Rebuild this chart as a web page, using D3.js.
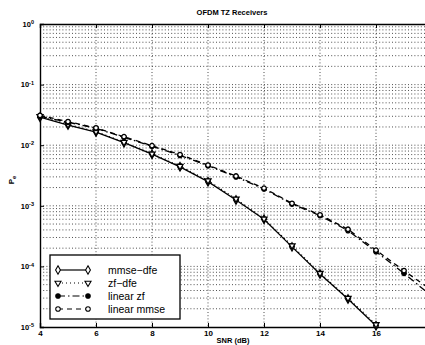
<!DOCTYPE html>
<html>
<head>
<meta charset="utf-8">
<script src="https://cdn.jsdelivr.net/npm/d3@7"></script>
<style>
  body { margin: 0; background: #fff; }
  svg { font-family: "Liberation Sans", Arial, sans-serif; }
</style>
</head>
<body>
<div id="chart"></div>
<script>
// chart data
var snr = [4, 5, 6, 7, 8, 9, 10, 11, 12, 13, 14, 15, 16, 17, 18]
var mmseDfe = [0.029, 0.0215, 0.0165, 0.011, 0.0071, 0.0044, 0.0025, 0.00125, 0.0006, 0.00021, 0.000075, 0.000029, 0.0000105]
var zfDfe = [0.030, 0.022, 0.0168, 0.0112, 0.0072, 0.0045, 0.0026, 0.0013, 0.00061, 0.00022, 0.000077, 0.00003, 0.000011]
var linearZf = [0.030, 0.024, 0.019, 0.0135, 0.0096, 0.0068, 0.0046, 0.0030, 0.0019, 0.00107, 0.00069, 0.00039, 0.000175, 0.000077, 0.000032]
var linearMmse = [0.031, 0.0245, 0.0193, 0.0138, 0.0098, 0.0070, 0.0047, 0.0031, 0.00195, 0.0011, 0.00071, 0.00041, 0.000185, 0.000085, 0.00004]
var seriesNames = ["mmse\u2212dfe", "zf\u2212dfe", "linear zf", "linear mmse"]
var xTicks = [4, 6, 8, 10, 12, 14, 16]
var yDecades = [0, -1, -2, -3, -4, -5]

var width = 425
var height = 345
var pLeft = 40, pTop = 24, pBottom = 327, pRight = 432

var svg = d3.select("#chart")
  .append("svg")
    .attr("width", width)
    .attr("height", height)

var x = d3.scaleLinear().domain([4, 18]).range([pLeft, pRight])
var y = d3.scaleLog().domain([1e-5, 1]).range([pBottom, pTop])

// grid: dotted, at every x tick and every log minor tick
var minor = []
for (var e = -5; e < 0; e++) {
  for (var m = 1; m < 10; m++) minor.push(m * Math.pow(10, e))
}
svg.append("g").selectAll("line")
  .data(minor.filter(function(v) { return v > 1e-5 }))
  .enter().append("line")
    .attr("x1", pLeft).attr("x2", pRight)
    .attr("y1", function(d) { return y(d) }).attr("y2", function(d) { return y(d) })
    .attr("stroke", "#222").attr("stroke-width", 0.8)
    .attr("stroke-dasharray", "1,2.2")

svg.append("g").selectAll("line")
  .data(xTicks.slice(1))
  .enter().append("line")
    .attr("x1", function(d) { return x(d) }).attr("x2", function(d) { return x(d) })
    .attr("y1", pTop).attr("y2", pBottom)
    .attr("stroke", "#222").attr("stroke-width", 0.8)
    .attr("stroke-dasharray", "1,2.2")

// axes
var xAxis = svg.append("g")
  .attr("transform", "translate(0," + pBottom + ")")
  .call(d3.axisBottom(x).tickValues(xTicks).tickSize(-4).tickPadding(3).tickFormat(d3.format("d")))
xAxis.select(".domain").attr("stroke-width", 1.4)
xAxis.selectAll("text").attr("font-size", 8).attr("font-weight", "bold").attr("fill", "#000")

svg.append("g")
  .attr("transform", "translate(0," + pTop + ")")
  .call(d3.axisTop(x).tickValues(xTicks).tickSize(-4).tickFormat(""))
  .select(".domain").attr("stroke-width", 1.4)

var yAxis = svg.append("g")
  .attr("transform", "translate(" + pLeft + ",0)")
  .call(d3.axisLeft(y).tickValues(yDecades.map(function(e) { return Math.pow(10, e) }))
    .tickSize(-4).tickPadding(5).tickFormat(""))
yAxis.select(".domain").attr("stroke-width", 1.4)

var yLab = yAxis.selectAll(".tick").append("text")
  .attr("x", -6).attr("dy", "0.3em")
  .attr("text-anchor", "end")
  .attr("fill", "#000").attr("font-size", 7.5).attr("font-weight", "bold")
yLab.append("tspan").text("10")
yLab.append("tspan").attr("dy", "-0.45em").attr("font-size", 5.5)
  .text(function(d) { return Math.round(Math.log10(d)) })

// title and labels
svg.append("text")
  .attr("x", 232).attr("y", 15)
  .attr("text-anchor", "middle")
  .attr("font-size", 7.5).attr("font-weight", "bold")
  .text("OFDM TZ Receivers")

svg.append("text")
  .attr("x", 233).attr("y", 343)
  .attr("text-anchor", "middle")
  .attr("font-size", 7.5).attr("font-weight", "bold")
  .text("SNR (dB)")

var pe = svg.append("text")
  .attr("transform", "translate(14,180) rotate(-90)")
  .attr("text-anchor", "middle")
  .attr("font-size", 8).attr("font-weight", "bold")
pe.append("tspan").text("P")
pe.append("tspan").attr("dy", "0.3em").attr("font-size", 6).text("e")

// series
var series = [
  { name: seriesNames[0], values: mmseDfe, dash: null, marker: "diamond", fill: "#fff" },
  { name: seriesNames[1], values: zfDfe, dash: "1,3", marker: "triangle", fill: "#fff" },
  { name: seriesNames[2], values: linearZf, dash: "7,3,1.5,3", marker: "circle", fill: "#000" },
  { name: seriesNames[3], values: linearMmse, dash: "5,4", marker: "circle", fill: "#fff" }
]

var symbols = {
  diamond: d3.symbol().type(d3.symbolDiamond).size(20),
  triangle: d3.symbol().type(d3.symbolTriangle).size(16),
  circle: d3.symbol().type(d3.symbolCircle).size(16)
}

var line = d3.line()
  .x(function(d) { return x(d[0]) })
  .y(function(d) { return y(d[1]) })

series.forEach(function(s) {
  var pts = s.values.map(function(v, i) { return [snr[i], v] })
  svg.append("path")
    .attr("d", line(pts))
    .attr("fill", "none")
    .attr("stroke", "#000")
    .attr("stroke-width", 1.3)
    .attr("stroke-dasharray", s.dash)
  svg.append("g").selectAll("path")
    .data(pts.filter(function(d) { return x(d[0]) < width }))
    .enter().append("path")
      .attr("transform", function(d) {
        return "translate(" + x(d[0]) + "," + y(d[1]) + ")" + (s.marker == "triangle" ? " rotate(180)" : "")
      })
      .attr("d", symbols[s.marker])
      .attr("fill", s.fill)
      .attr("stroke", "#000")
      .attr("stroke-width", 1.3)
})

// legend
var legend = svg.append("g").attr("transform", "translate(50,255)")
legend.append("rect")
  .attr("width", 130).attr("height", 64)
  .attr("fill", "#fff").attr("stroke", "#000").attr("stroke-width", 1.3)

var item = legend.selectAll(".item")
  .data(series)
  .enter().append("g")
    .attr("transform", function(d, i) { return "translate(0," + (15 + i * 13) + ")" })

item.append("line")
  .attr("x1", 8).attr("x2", 38)
  .attr("stroke", "#000").attr("stroke-width", 1.2)
  .attr("stroke-dasharray", function(d) { return d.dash })

item.selectAll(".mk")
  .data(function(d) { return [[8, d], [38, d]] })
  .enter().append("path")
    .attr("transform", function(p) {
      return "translate(" + p[0] + ",0)" + (p[1].marker == "triangle" ? " rotate(180)" : "")
    })
    .attr("d", function(p) { return symbols[p[1].marker]() })
    .attr("fill", function(p) { return p[1].fill })
    .attr("stroke", "#000").attr("stroke-width", 1.1)

item.append("text")
  .attr("x", 58).attr("dy", "0.35em")
  .attr("font-size", 10.5)
  .text(function(d) { return d.name })
</script>
</body>
</html>
